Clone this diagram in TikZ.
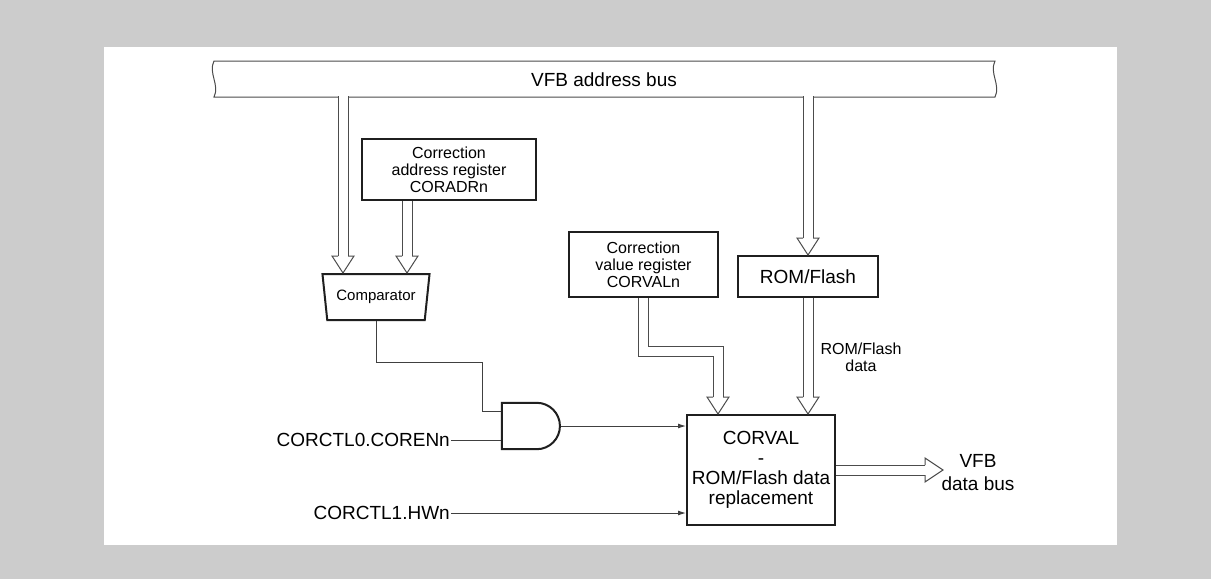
\documentclass[tikz,border=0pt]{standalone}
\usepackage{fontspec}
\setmainfont{Liberation Sans}
\usetikzlibrary{calc,arrows.meta,shapes.geometric,shapes.gates.logic.US}

\newcommand{\lblfont}{\fontsize{19}{20}\selectfont}
\newcommand{\regfont}{\fontsize{16}{16.8}\selectfont}
\newcommand{\cmpfont}{\fontsize{15}{16}\selectfont}

\tikzset{
  box/.style={draw=black!88, line width=2pt, align=center, inner sep=0pt},
  sig/.style={draw=black!75, line width=1pt},
  busline/.style={draw=black!70, line width=1pt, line join=miter},
  busshaft/.style={draw=black!70, line width=1pt, double=white, double distance=9pt},
}

% hollow bus arrow heads (tip given as coordinate)
\newcommand{\headdown}[1]{\draw[busline] ($(#1)+(-5,-17)$) -- ++(-6,0) -- (#1) -- ++(11,-17) -- ++(-6,0);}
\newcommand{\headright}[1]{\draw[busline] ($(#1)+(-18,-5)$) -- ++(0,-7) -- (#1) -- ++(-18,12) -- ++(0,-7);}

\begin{document}
\begin{tikzpicture}[x=1pt, y=-1pt, >={Latex[length=8pt,width=5pt]}]
  % Background and panel
  \fill[black!20] (0,0) rectangle (1211,579);
  \fill[white] (104,47) rectangle (1117,545);
  \useasboundingbox (0,0) rectangle (1211,579);

  % VFB address bus
  \draw[busline] (214,61) -- (995,61) .. controls (989,73) and (1001,85) .. (995,97)
    -- (214,97) .. controls (220,85) and (208,73) .. (214,61) -- cycle;
  \node[font=\lblfont] (abus) at (604,80) {VFB address bus};

  % Registers and blocks
  \node[box, minimum width=174, minimum height=61, font=\regfont] (coradr) at (449,169.5)
    {Correction\\address register\\CORADRn};
  \node[box, minimum width=149, minimum height=65, font=\regfont] (corval) at (643.5,264.5)
    {Correction\\value register\\CORVALn};
  \node[box, minimum width=140, minimum height=41, font=\lblfont] (rom) at (808,276.5) {ROM/Flash};
  \node[box, minimum width=148, minimum height=110, font=\lblfont] (main) at (761,470)
    {CORVAL\\-\\ROM/Flash data\\replacement};

  % Comparator
  \node[box, trapezium, shape border rotate=180, trapezium left angle=74, trapezium right angle=74,
    trapezium stretches=true, minimum width=108, minimum height=46, font=\cmpfont] (cmp) at (376,297) {Comparator};
  \coordinate (cmptop) at ($(cmp.center)+(0,-24)$);
  \coordinate (cmpbot) at ($(cmp.center)+(0,24)$);

  % AND gate
  \node[and gate US, draw=black!88, line width=2pt, logic gate inputs=nn,
    minimum width=58, minimum height=46] (andg) at (529,426) {};

  % Signal labels
  \node[font=\lblfont, anchor=east, inner sep=1pt] (coren) at (451,440) {CORCTL0.CORENn};
  \node[font=\lblfont, anchor=east, inner sep=1pt] (hwn) at (451,513) {CORCTL1.HWn};
  \node[font=\regfont, align=center] (romdat) at (861,357) {ROM/Flash\\data};
  \node[font=\fontsize{19}{23}\selectfont, align=center] (dbus) at (978,473) {VFB\\data bus};

  % Bus -> comparator, CORADRn -> comparator
  \coordinate (ta) at (343,96);
  \draw[busshaft] (ta) -- ($(ta |- cmptop)+(0,-17)$);
  \headdown{ta |- cmptop}
  \coordinate (cbx) at ($(coradr.south west)+(46,0)$);
  \draw[busshaft] (cbx) -- ($(cbx |- cmptop)+(0,-17)$);
  \headdown{cbx |- cmptop}

  % Bus -> ROM/Flash -> replacement block
  \coordinate (tb) at (808,96);
  \draw[busshaft] (tb) -- ($(rom.north)+(0,-17)$);
  \headdown{rom.north}
  \draw[busshaft] (rom.south) -- ($(rom.south |- main.north)+(0,-17)$);
  \headdown{rom.south |- main.north}

  % CORVALn -> replacement block
  \coordinate (cvin) at ($(main.north west)+(32,0)$);
  \draw[busshaft] (corval.south) -- ++(0,53) -| ($(cvin)+(0,-17)$);
  \headdown{cvin}

  % Replacement block -> VFB data bus
  \coordinate (dtip) at ($(main.east)+(107,0)$);
  \draw[busshaft] (main.east) -- ($(dtip)+(-18,0)$);
  \headright{dtip}

  % Control signals
  \coordinate (in1) at ($(andg.west)+(0,-15)$);
  \coordinate (in2) at ($(andg.west)+(0,14)$);
  \draw[sig] (cmpbot) -- ++(0,41) -| ($(in1)+(-18,0)$) -- (in1);
  \draw[sig] (coren.east) -- (in2);
  \draw[sig, ->] (andg.east) -- (andg.east -| main.west);
  \draw[sig, ->] (hwn.east) -- (hwn.east -| main.west);
\end{tikzpicture}
\end{document}
